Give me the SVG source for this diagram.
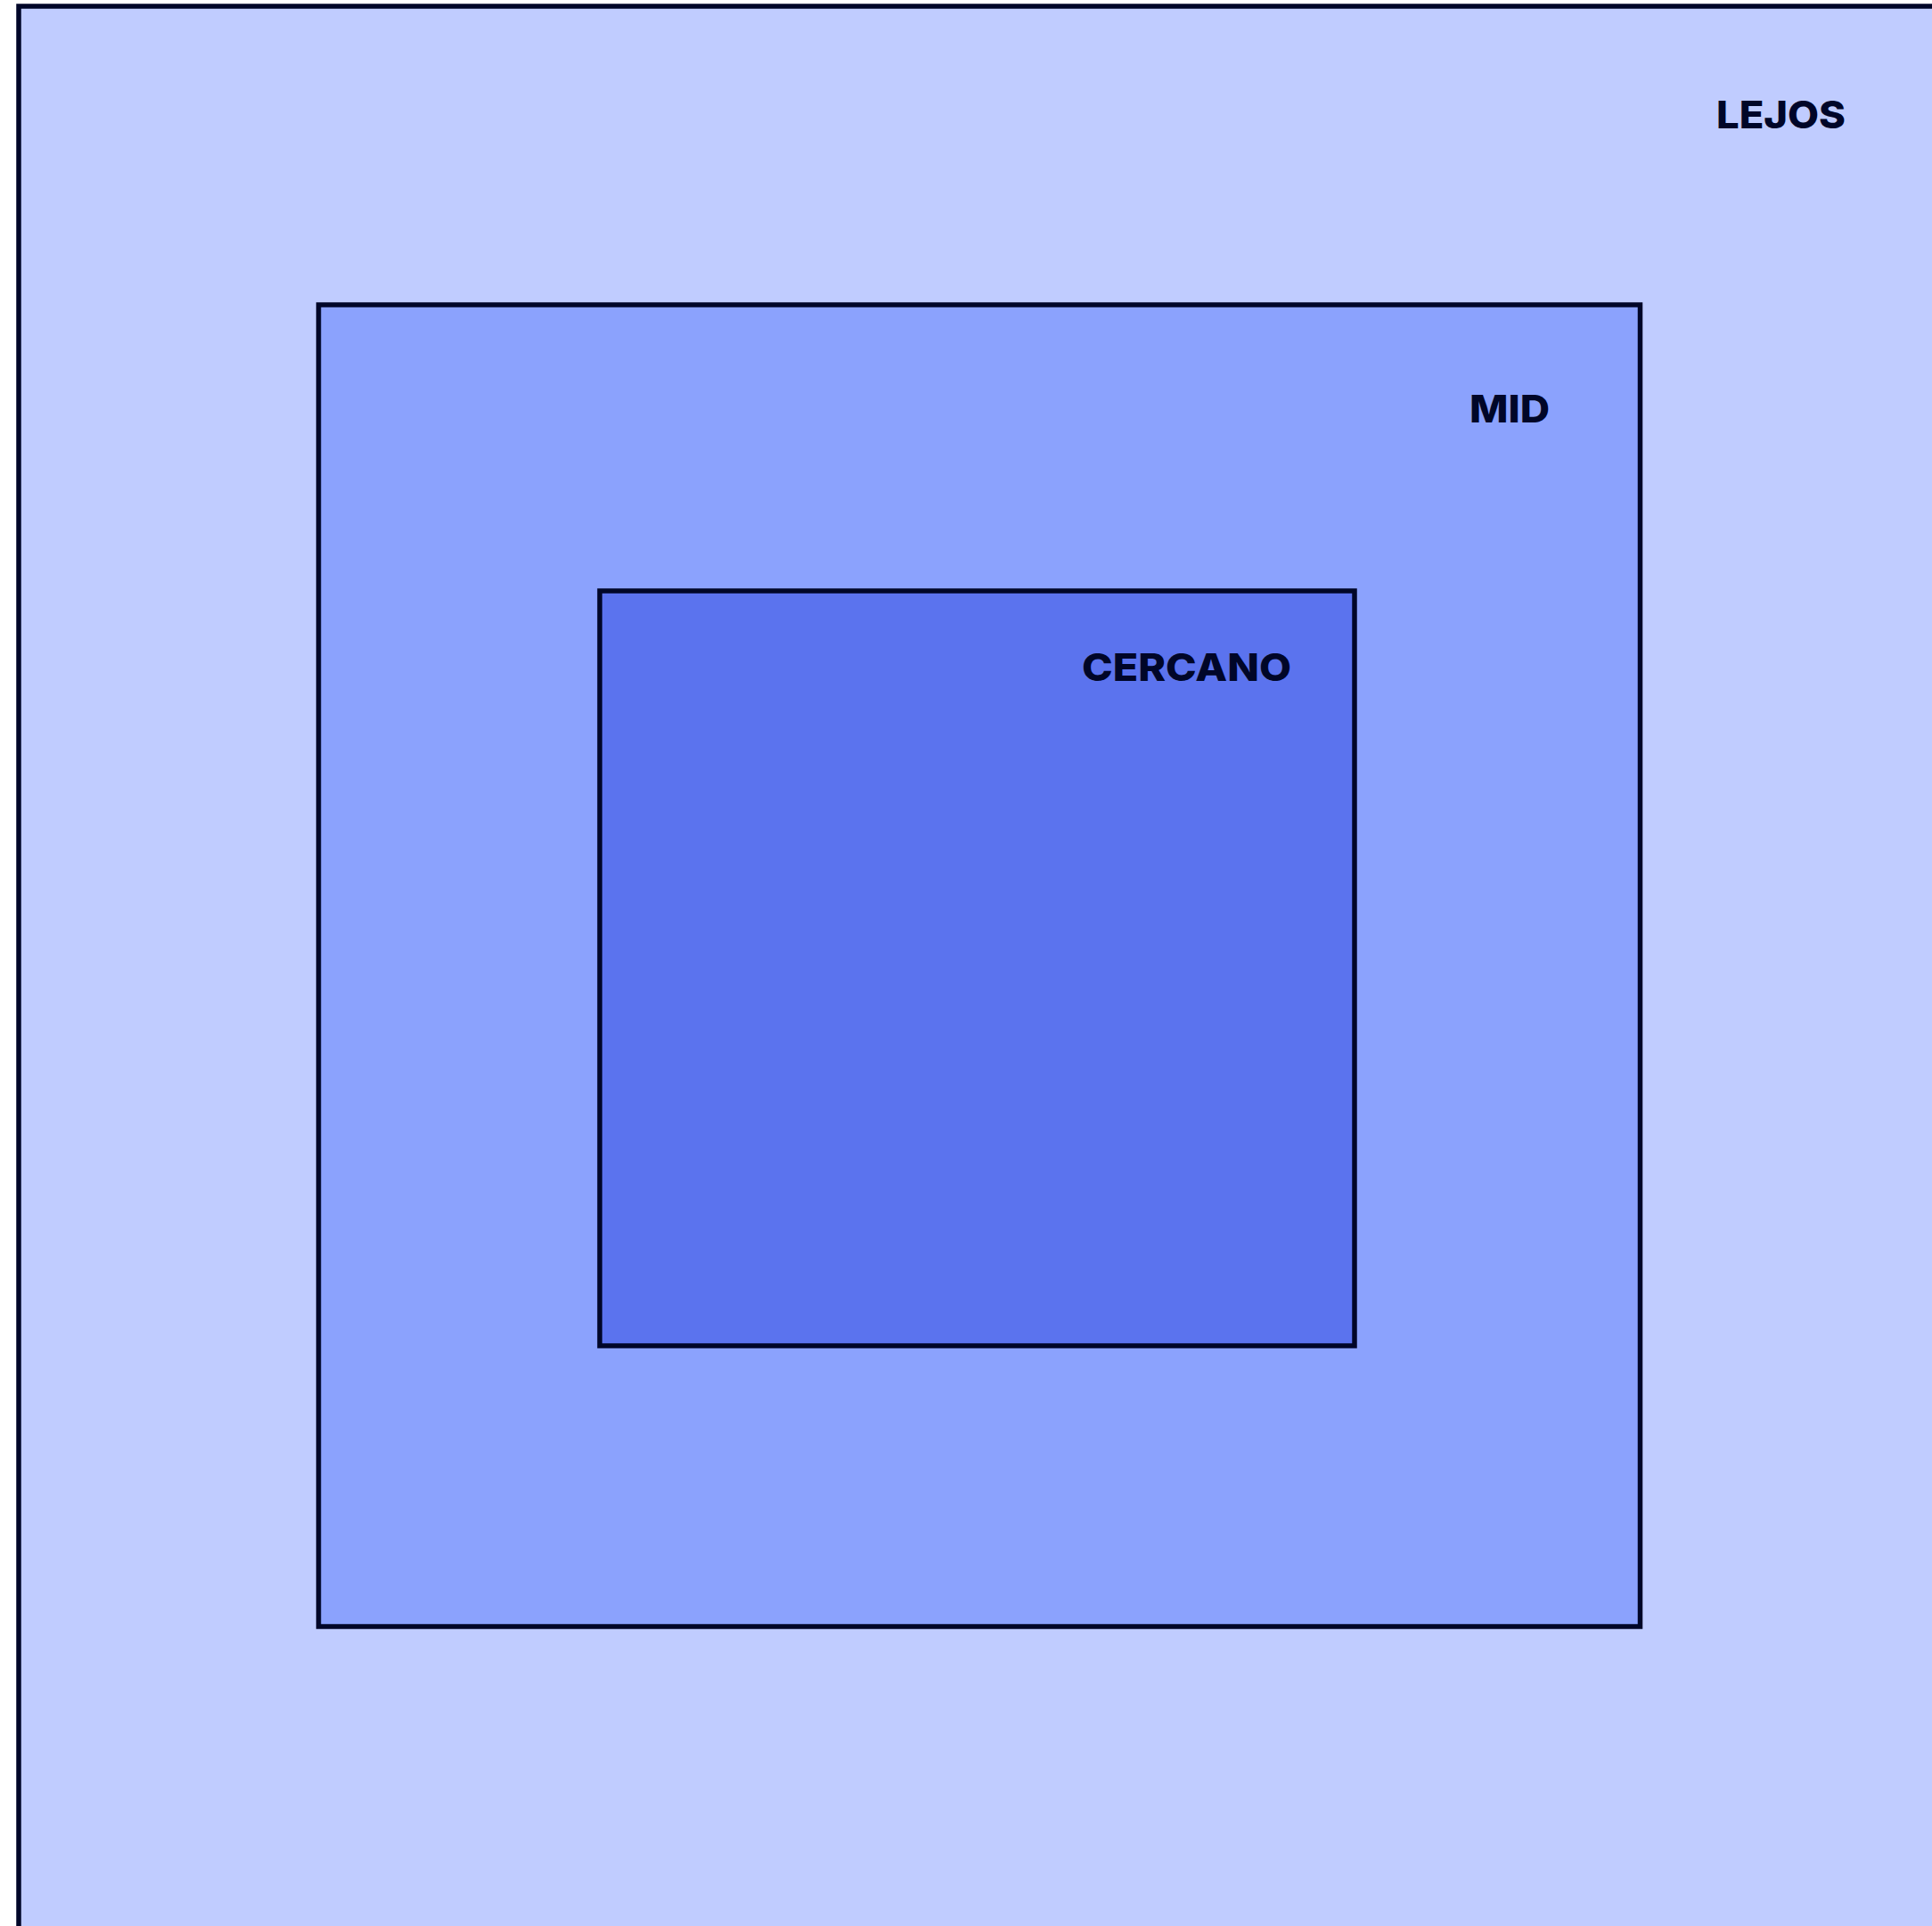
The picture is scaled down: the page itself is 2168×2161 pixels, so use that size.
<svg xmlns="http://www.w3.org/2000/svg" width="2168" height="2161" viewBox="0 0 2168 2161">
<style>
.box{stroke:#000628;stroke-width:5.5}
.lbl{font-family:Inter,"Open Sans","Liberation Sans",sans-serif;font-weight:800;font-size:43px;fill:#000628}
</style>
<rect width="2168" height="2161" fill="#ffffff"/>
<g id="lejos">
<rect class="box" x="21" y="7" width="2160" height="2170" fill="#C0CCFF"/>
<text class="lbl" x="1926" y="144" textLength="145" lengthAdjust="spacingAndGlyphs">LEJOS</text>
</g>
<g id="mid">
<rect class="box" x="357.5" y="342" width="1483" height="1483" fill="#8BA2FD"/>
<text class="lbl" x="1649" y="474" textLength="90" lengthAdjust="spacingAndGlyphs">MID</text>
</g>
<g id="cercano">
<rect class="box" x="673" y="663" width="847" height="847" fill="#5B73EE"/>
<text class="lbl" x="1214" y="764" textLength="235" lengthAdjust="spacingAndGlyphs">CERCANO</text>
</g>
<g id="connectors"/>
</svg>
